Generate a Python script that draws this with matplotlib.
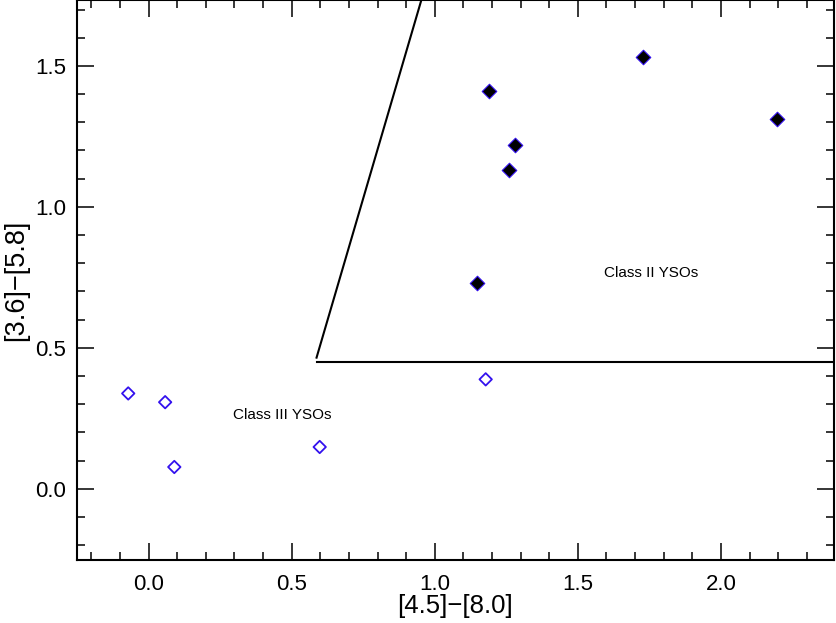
import numpy as np
import matplotlib.pyplot as plt
from matplotlib.ticker import MultipleLocator

plt.rcParams['font.family'] = ['Liberation Sans', 'DejaVu Sans']

# Class II YSOs (filled diamonds)
c2_x = [1.188, 1.728, 2.197, 1.279, 1.258, 1.148]
c2_y = [1.410, 1.530, 1.310, 1.220, 1.129, 0.729]

# Class III YSOs (open diamonds)
c3_x = [-0.071, 0.058, 0.090, 0.598, 1.178]
c3_y = [0.338, 0.307, 0.077, 0.148, 0.388]

# Class II boundary
slant_x = [0.587, 0.953]
slant_y = [0.465, 1.733]
horiz_x = [0.587, 2.395]
horiz_y = [0.448, 0.448]

blue = '#3311ee'

fig = plt.figure(figsize=(8.36, 6.23), dpi=100)
ax = fig.add_axes([0.0921, 0.1011, 0.9055, 0.8985])

ax.plot(slant_x, slant_y, color='black', lw=1.5)
ax.plot(horiz_x, horiz_y, color='black', lw=1.5)

ax.scatter(c2_x, c2_y, marker='D', s=55, facecolor='black', edgecolor=blue, linewidths=0.8, zorder=3)
ax.scatter(c3_x, c3_y, marker='D', s=40, facecolor='none', edgecolor=blue, linewidths=1.3, zorder=3)

ax.text(1.757, 0.764, 'Class II YSOs', ha='center', va='center', fontsize=11)
ax.text(0.466, 0.262, 'Class III YSOs', ha='center', va='center', fontsize=11)

ax.set_xlim(-0.25, 2.395)
ax.set_ylim(-0.253, 1.733)

ax.xaxis.set_major_locator(MultipleLocator(0.5))
ax.xaxis.set_minor_locator(MultipleLocator(0.1))
ax.yaxis.set_major_locator(MultipleLocator(0.5))
ax.yaxis.set_minor_locator(MultipleLocator(0.1))
ax.tick_params(which='both', direction='in', top=True, right=True, width=1.1, labelsize=16)
ax.tick_params(axis='x', pad=10)
ax.tick_params(axis='y', pad=8)
ax.tick_params(which='major', length=12)
ax.tick_params(which='minor', length=6)
for sp in ax.spines.values():
    sp.set_linewidth(1.5)

ax.xaxis.set_major_formatter(plt.FuncFormatter(lambda v, p: f'{v:.1f}'))
ax.yaxis.set_major_formatter(plt.FuncFormatter(lambda v, p: f'{v:.1f}'))

ax.set_xlabel('[4.5]\u2212[8.0]', fontsize=18.5, labelpad=-1)
ax.set_ylabel('[3.6]\u2212[5.8]', fontsize=19.5, labelpad=4)

fig.savefig('out.png', dpi=100)
